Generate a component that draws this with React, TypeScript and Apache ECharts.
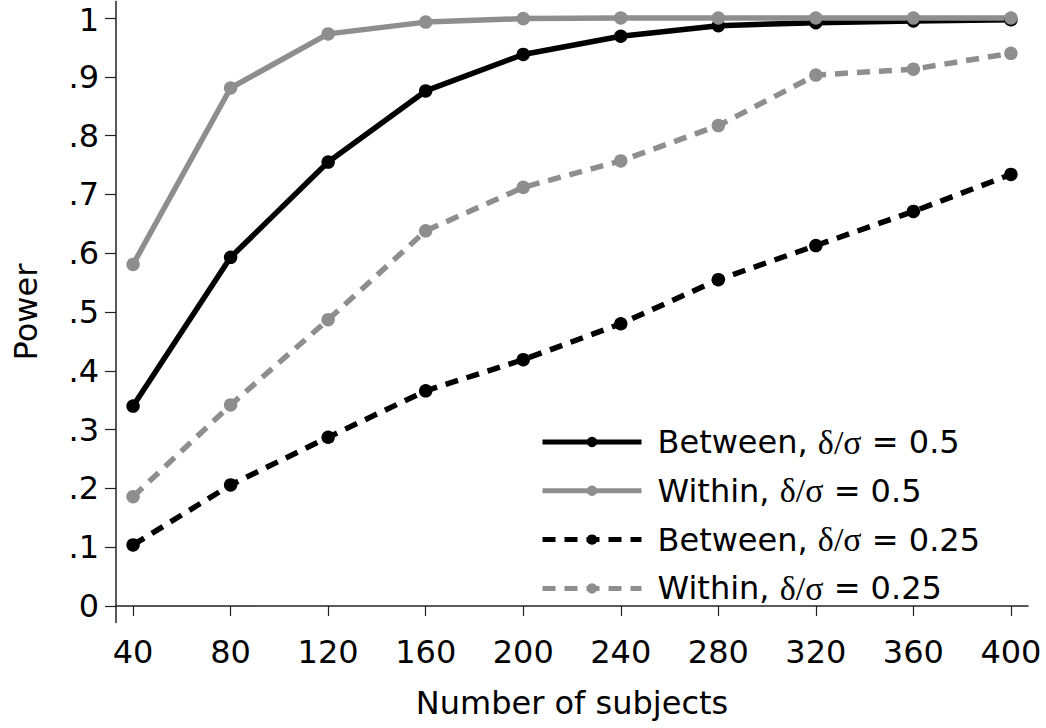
import React, { useEffect, useRef } from "react";
import * as echarts from "echarts";

const subjects = [40, 80, 120, 160, 200, 240, 280, 320, 360, 400];
const betweenHalf = [0.340, 0.593, 0.755, 0.876, 0.938, 0.969, 0.987, 0.992, 0.995, 0.997];
const withinHalf = [0.581, 0.881, 0.973, 0.993, 0.999, 1.0, 1.0, 1.0, 1.0, 1.0];
const betweenQuarter = [0.104, 0.206, 0.287, 0.366, 0.419, 0.480, 0.555, 0.613, 0.671, 0.734];
const withinQuarter = [0.186, 0.342, 0.487, 0.638, 0.712, 0.757, 0.817, 0.903, 0.913, 0.940];
const xTicks = [40, 80, 120, 160, 200, 240, 280, 320, 360, 400];
const yTicks = [0, 0.1, 0.2, 0.3, 0.4, 0.5, 0.6, 0.7, 0.8, 0.9, 1];
const seriesNames = [
  "Between, δ/σ = 0.5",
  "Within, δ/σ = 0.5",
  "Between, δ/σ = 0.25",
  "Within, δ/σ = 0.25",
];

const BLACK = "#000000";
const GRAY = "#8e8e8e";
const FONT = "DejaVu Sans";

function yFmt(v: number): string {
  if (Math.abs(v) < 1e-9) return "0";
  if (Math.abs(v - 1) < 1e-9) return "{top|1}";
  return "." + Math.round(v * 10);
}

export default function App() {
  const ref = useRef<HTMLDivElement>(null);
  useEffect(() => {
    if (!ref.current) return;
    const chart = echarts.init(ref.current, null, { renderer: "svg" });
    const mk = (name: string, data: number[], color: string, dashed: boolean) => ({
      name,
      type: "line",
      data: subjects.map((x, i) => [x, data[i]]),
      symbol: "circle",
      symbolSize: 13.5,
      showSymbol: true,
      itemStyle: { color },
      lineStyle: {
        color,
        width: 5.5,
        type: dashed ? [13, 9] : "solid",
        cap: "butt",
      },
      emphasis: { disabled: true },
    });
    chart.setOption({
      animation: false,
      backgroundColor: "#ffffff",
      grid: { left: 116, right: 18, top: 0, bottom: 105.5, containLabel: false },
      xAxis: {
        type: "value",
        min: 33,
        max: 407,
        name: "Number of subjects",
        nameLocation: "middle",
        nameGap: 64,
        nameTextStyle: { fontFamily: FONT, fontSize: 32, color: "#000" },
        axisLine: { show: true, lineStyle: { color: "#222", width: 1.5 } },
        axisTick: { show: true, length: 10, inside: false, customValues: xTicks, lineStyle: { color: "#222", width: 1.2 } },
        axisLabel: { customValues: xTicks, margin: 13, fontFamily: FONT, fontSize: 32, color: "#000" },
        splitLine: { show: false },
      },
      yAxis: {
        type: "value",
        min: -0.028,
        max: 1.028,
        name: "Power",
        nameLocation: "middle",
        nameGap: 74,
        nameTextStyle: { fontFamily: FONT, fontSize: 32, color: "#000" },
        axisLine: { show: true, lineStyle: { color: "#222", width: 1.5 } },
        axisTick: { show: true, length: 11, inside: false, customValues: yTicks, lineStyle: { color: "#222", width: 1.2 } },
        axisLabel: {
          customValues: yTicks,
          margin: 17,
          fontFamily: FONT,
          fontSize: 32,
          lineHeight: 30,
          color: "#000",
          formatter: yFmt,
          rich: {
            top: { fontFamily: FONT, fontSize: 32, color: "#000", lineHeight: 30, padding: [4, 0, 0, 0] },
          },
        },
        splitLine: { show: false },
      },
      legend: {
        show: true,
        orient: "vertical",
        left: 540,
        top: 425,
        padding: 0,
        itemWidth: 99,
        itemHeight: 13,
        itemGap: 14.8,
        selectedMode: false,
        lineStyle: { width: 5 },
        data: seriesNames,
        formatter: (name: string) => {
          const parts = name.split("δ/σ");
          return parts[0] + "{g|δ/σ}" + parts[1];
        },
        textStyle: {
          fontFamily: FONT,
          fontSize: 32,
          color: "#000",
          lineHeight: 32,
          padding: [0, 0, 0, 11],
          rich: {
            g: { fontFamily: "Liberation Serif", fontSize: 34, color: "#000", lineHeight: 32 },
          },
        },
      },
      series: [
        mk(seriesNames[0], betweenHalf, BLACK, false),
        mk(seriesNames[1], withinHalf, GRAY, false),
        mk(seriesNames[2], betweenQuarter, BLACK, true),
        mk(seriesNames[3], withinQuarter, GRAY, true),
      ],
    });
    return () => chart.dispose();
  }, []);
  return (
    <div
      ref={ref}
      style={{ position: "absolute", left: 0, top: 0, width: 1046, height: 728, background: "#fff" }}
    />
  );
}
